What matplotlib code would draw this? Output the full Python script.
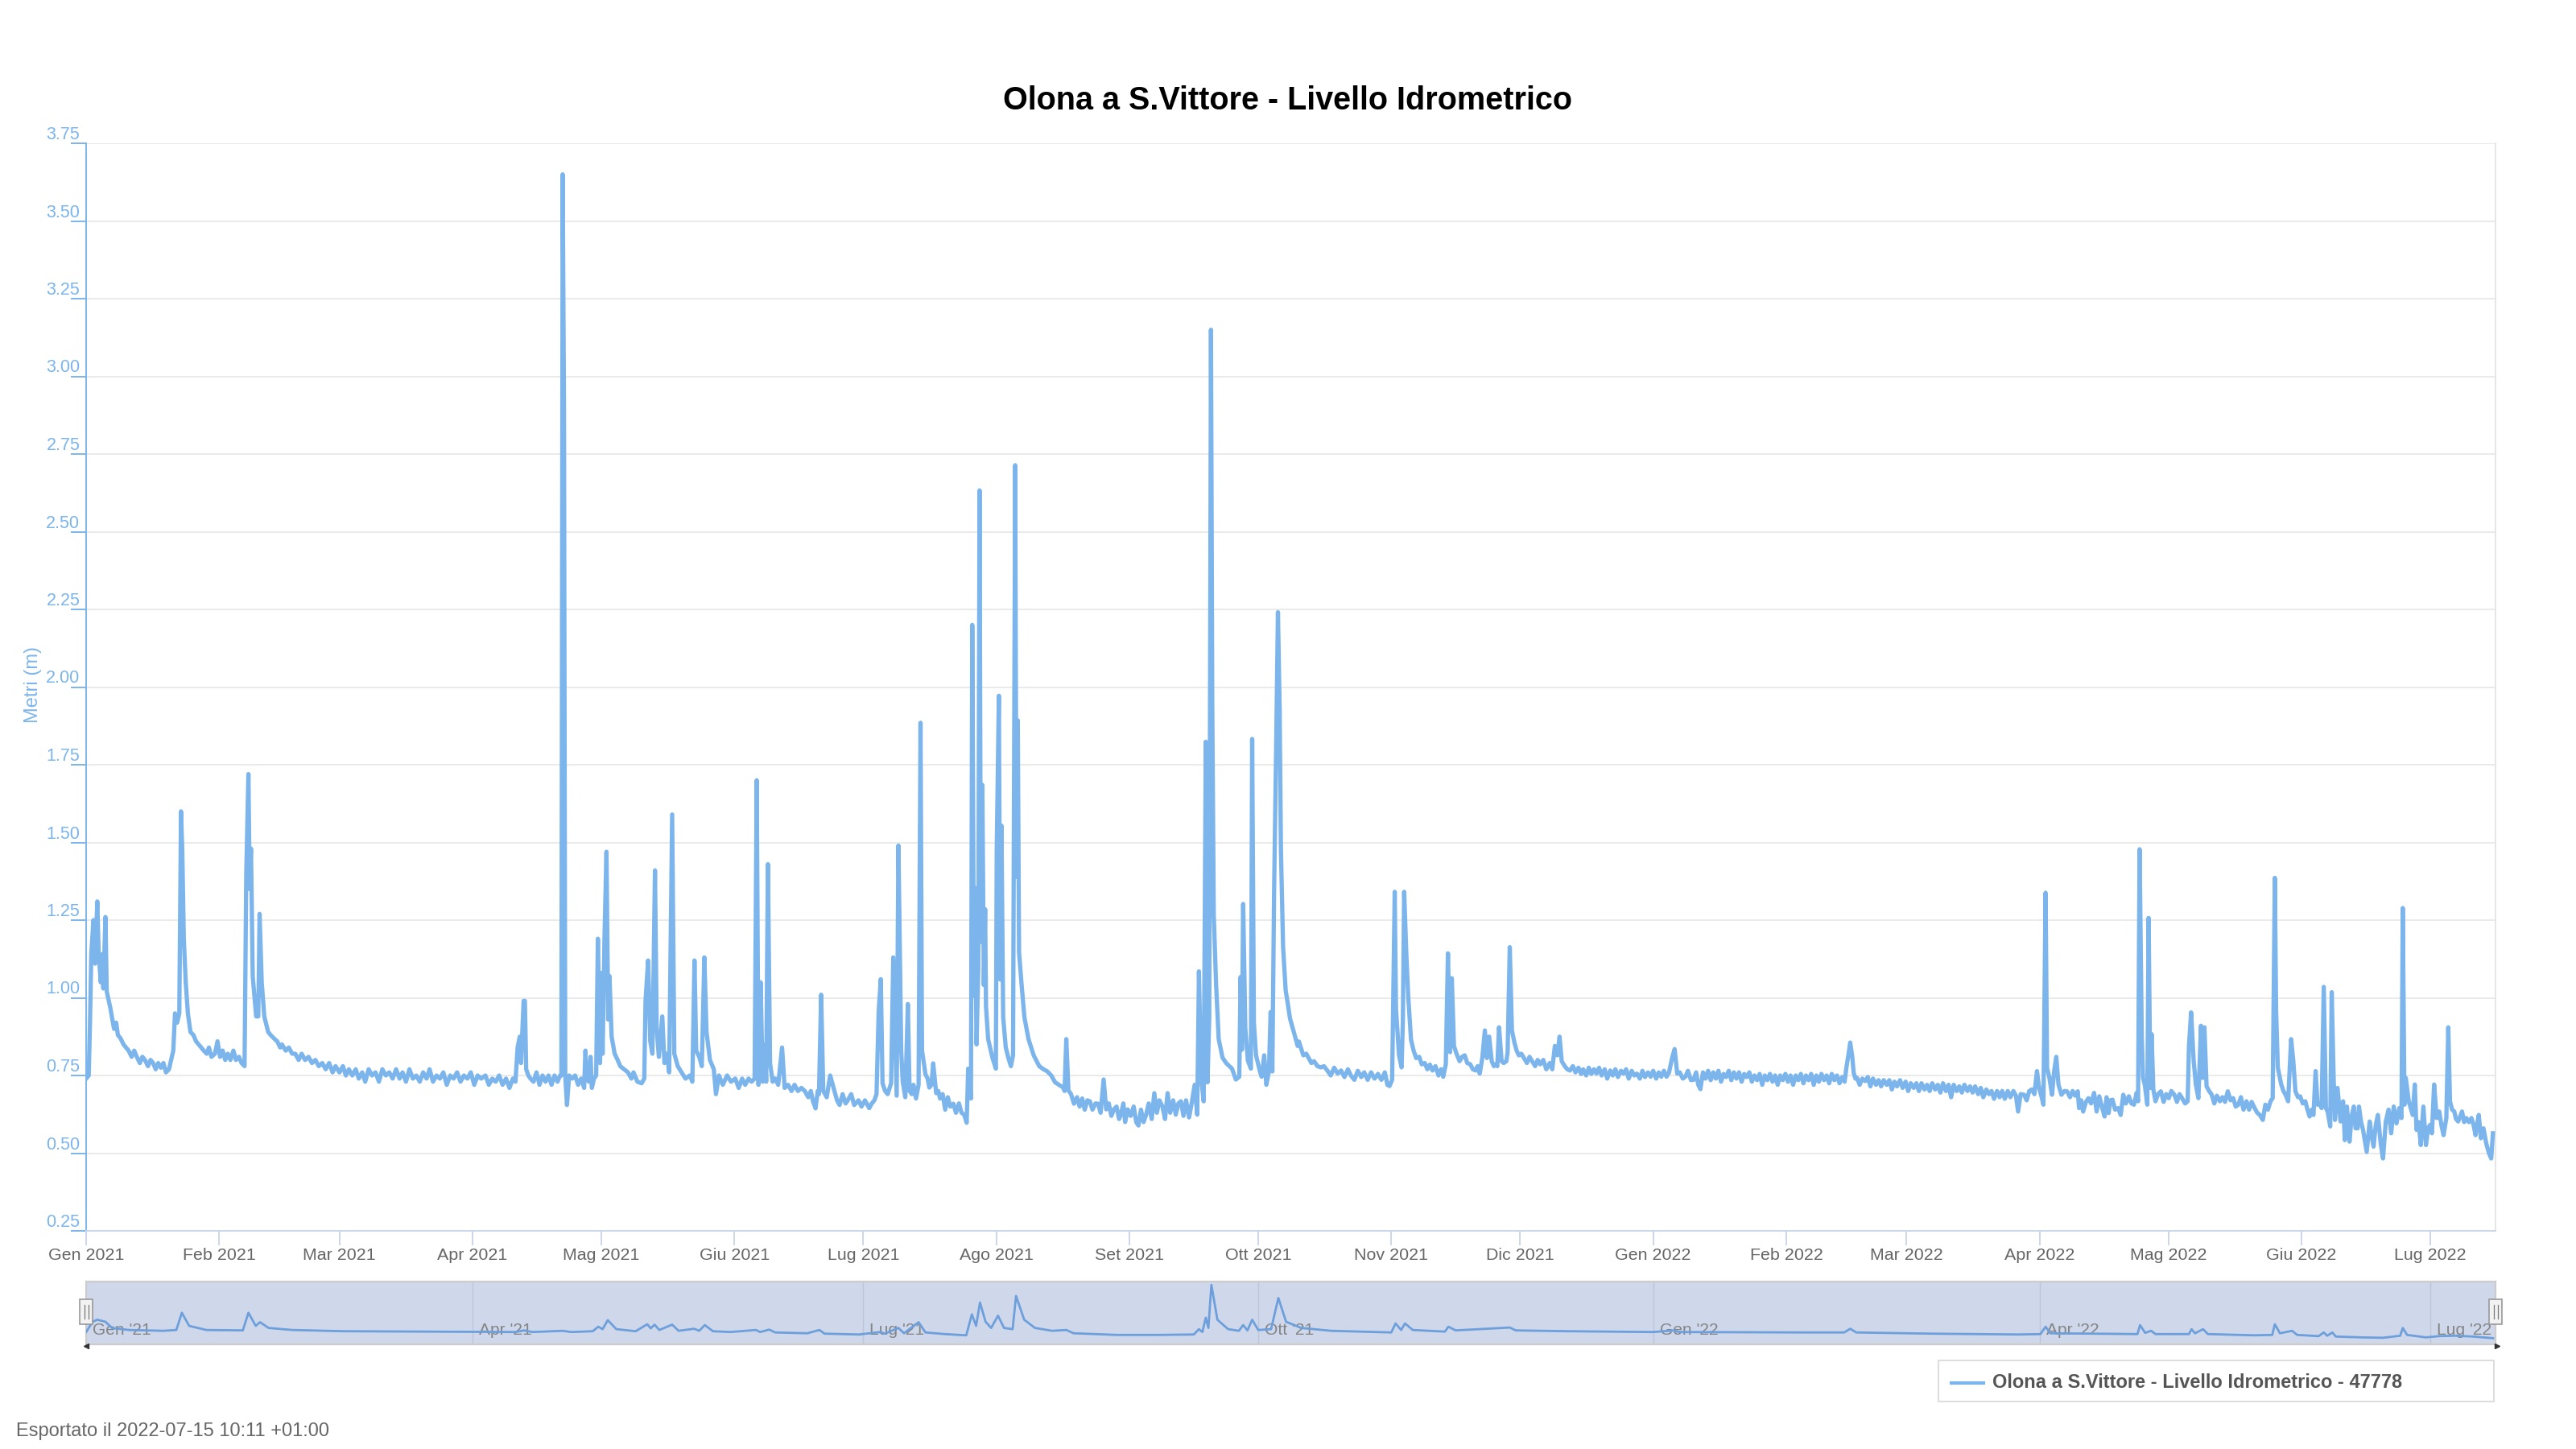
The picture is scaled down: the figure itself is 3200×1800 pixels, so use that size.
import numpy as np
import pandas as pd
import matplotlib
matplotlib.use("Agg")
import matplotlib.pyplot as plt
import matplotlib.transforms as mtransforms
from matplotlib.patches import Rectangle
from matplotlib.lines import Line2D

plt.rcParams['font.family'] = ['Liberation Sans', 'DejaVu Sans']

# giorni dal 1 gennaio 2021, livello in metri
inizio = pd.Timestamp('2021-01-01')

gg_gen_mar21 = [0.0, 0.6, 0.9, 1.2, 1.7, 2.1, 2.6, 2.9, 3.4, 3.7, 4.0, 4.5, 4.8, 5.6, 6.5, 7.0, 7.4, 8.0, 8.7, 9.3,
                9.9, 10.6, 11.2, 11.8, 12.5, 13.1, 13.7, 14.4, 15.0, 15.6, 16.2, 16.8, 17.4, 18.0, 18.6, 19.3, 19.8,
                20.3, 20.7, 21.2, 21.7, 22.1, 22.4, 22.75, 23.2, 23.7, 24.3, 25.0, 25.6, 26.2, 26.8, 27.4, 28.1, 28.6,
                29.2, 30.0, 30.6, 31.2, 31.8, 32.4, 33.0, 33.6, 34.3, 34.9, 35.6, 36.2, 36.9, 37.3, 37.8, 38.1, 38.4,
                38.8, 39.6, 40.1, 40.4, 40.9, 41.5, 42.4, 43.0, 43.7, 44.5, 45.2, 45.6, 46.5, 47.2, 48.0, 48.7, 49.5,
                50.2, 51.0, 51.8, 52.6, 53.4, 54.2, 55.0, 55.8, 56.6, 57.4, 58.1, 59.0, 59.8, 60.5, 61.2, 62.0, 62.8,
                63.5, 64.3, 65.0, 65.8, 66.6, 67.4, 68.2, 69.0, 69.8, 70.6, 71.4, 72.2, 73.0, 73.7, 74.5, 75.3, 76.1,
                76.9, 77.7, 78.5, 79.3, 80.0, 80.8, 81.6, 82.4, 83.2, 84.0, 84.8, 85.6, 86.4, 87.2, 88.0, 88.8, 89.6,
                90.4, 91.2, 92.0]
lv_gen_mar21 = [0.74, 0.75, 0.92, 1.14, 1.25, 1.11, 1.31, 1.15, 1.05, 1.14, 1.03, 1.26, 1.02, 0.97, 0.90, 0.92, 0.88,
                0.87, 0.85, 0.84, 0.83, 0.81, 0.83, 0.81, 0.79, 0.81, 0.80, 0.78, 0.80, 0.79, 0.77, 0.79, 0.775, 0.79,
                0.76, 0.77, 0.80, 0.83, 0.95, 0.92, 0.95, 1.60, 1.47, 1.19, 1.05, 0.95, 0.89, 0.88, 0.86, 0.85, 0.84,
                0.83, 0.82, 0.84, 0.81, 0.82, 0.86, 0.81, 0.83, 0.80, 0.82, 0.80, 0.83, 0.80, 0.81, 0.79, 0.78, 1.40,
                1.72, 1.35, 1.48, 1.07, 0.94, 0.94, 1.27, 1.05, 0.94, 0.89, 0.88, 0.87, 0.86, 0.84, 0.85, 0.83, 0.84,
                0.82, 0.82, 0.80, 0.82, 0.80, 0.81, 0.79, 0.80, 0.78, 0.79, 0.77, 0.79, 0.76, 0.78, 0.76, 0.78, 0.75,
                0.77, 0.75, 0.77, 0.74, 0.76, 0.73, 0.77, 0.75, 0.76, 0.73, 0.77, 0.75, 0.76, 0.74, 0.77, 0.74, 0.76,
                0.73, 0.77, 0.74, 0.75, 0.73, 0.76, 0.74, 0.77, 0.73, 0.75, 0.74, 0.76, 0.72, 0.75, 0.74, 0.76, 0.73,
                0.75, 0.74, 0.76, 0.72, 0.75, 0.74]

gg_apr_giu21 = [93.0, 93.8, 94.6, 95.4, 96.2, 97.0, 97.8, 98.6, 99.4, 100.0, 100.5, 101.0, 101.3, 101.9, 102.2, 102.5,
                103.0, 103.5, 104.2, 104.9, 105.6, 106.3, 107.0, 107.7, 108.4, 109.1, 109.8, 110.4, 110.7, 111.0,
                111.3, 111.6, 112.0, 112.5, 113.2, 113.9, 114.6, 115.3, 116.0, 116.3, 116.6, 117.1, 117.5, 117.8,
                118.3, 118.8, 119.2, 119.7, 120.0, 120.3, 120.75, 121.2, 121.6, 121.9, 122.4, 123.1, 123.8, 124.4,
                125.3, 126.2, 127.0, 127.5, 128.4, 129.4, 130.0, 130.3, 130.9, 131.4, 131.9, 132.5, 132.9, 133.4,
                134.2, 134.7, 135.3, 135.8, 136.5, 137.0, 137.8, 138.7, 139.6, 140.6, 141.2, 141.7, 142.1, 142.8,
                143.4, 144.0, 144.5, 145.3, 146.2, 146.7, 147.4, 148.3, 149.3, 150.2, 151.2, 152.0, 152.8, 153.5,
                154.3, 155.0, 155.7, 156.2, 156.6, 157.1, 157.6, 158.1, 158.4, 158.8, 159.3, 159.9, 160.5, 161.2,
                162.1, 162.7, 163.5, 164.3, 165.0, 165.8, 166.6, 167.4, 168.2, 168.8, 169.3, 169.9, 170.4, 170.7,
                171.2, 171.7, 172.5, 173.3, 174.3, 174.9, 175.5, 176.2, 176.9, 177.4, 178.2, 178.9, 179.9, 180.6,
                181.4, 182.4, 183.0, 183.6, 184.1, 184.6, 185.1, 185.5, 186.1, 186.7, 187.5, 188.0, 188.4, 188.8,
                189.2, 189.85, 190.2]
lv_apr_giu21 = [0.75, 0.72, 0.74, 0.73, 0.75, 0.72, 0.74, 0.71, 0.74, 0.73, 0.84, 0.875, 0.79, 0.99, 0.99, 0.77, 0.75,
                0.74, 0.73, 0.76, 0.72, 0.75, 0.73, 0.75, 0.72, 0.75, 0.73, 0.75, 0.75, 3.65, 2.90, 0.75, 0.655, 0.75,
                0.74, 0.75, 0.72, 0.74, 0.71, 0.83, 0.74, 0.73, 0.81, 0.71, 0.74, 0.75, 1.19, 0.79, 1.08, 0.82, 1.20,
                1.47, 0.93, 1.07, 0.875, 0.82, 0.80, 0.78, 0.77, 0.76, 0.74, 0.76, 0.73, 0.725, 0.74, 0.99, 1.12, 0.86,
                0.82, 1.41, 0.90, 0.81, 0.94, 0.79, 0.82, 0.76, 1.59, 0.82, 0.78, 0.76, 0.74, 0.75, 0.73, 1.12, 0.83,
                0.81, 0.78, 1.13, 0.89, 0.80, 0.77, 0.69, 0.75, 0.72, 0.75, 0.73, 0.74, 0.71, 0.74, 0.72, 0.74, 0.73,
                0.74, 1.70, 0.72, 1.05, 0.73, 0.85, 0.73, 1.43, 0.79, 0.73, 0.74, 0.72, 0.84, 0.71, 0.72, 0.70, 0.72,
                0.70, 0.71, 0.70, 0.68, 0.70, 0.667, 0.644, 0.70, 0.69, 1.01, 0.70, 0.68, 0.75, 0.70, 0.67, 0.655,
                0.69, 0.66, 0.67, 0.69, 0.655, 0.67, 0.65, 0.67, 0.645, 0.66, 0.67, 0.69, 0.955, 1.06, 0.725, 0.70,
                0.69, 0.725, 1.13, 0.91, 0.685, 1.49, 0.83, 0.73]

gg_lug_set21 = [190.8, 191.4, 191.8, 192.3, 192.7, 193.3, 193.9, 194.35, 194.7, 195.5, 196.0, 196.4, 196.9, 197.3,
                198.0, 198.5, 198.9, 199.5, 200.1, 200.7, 201.3, 202.0, 202.6, 203.3, 203.9, 204.5, 205.1, 205.45,
                206.1, 206.4, 206.8, 207.0, 207.4, 207.8, 208.1, 208.4, 208.75, 209.1, 209.4, 209.6, 210.1, 211.1,
                211.9, 212.1, 212.6, 212.9, 213.2, 213.6, 214.2, 214.8, 215.4, 215.9, 216.4, 216.7, 217.0, 217.3,
                217.9, 218.55, 219.5, 220.7, 222.0, 223.0, 223.9, 224.8, 225.7, 226.6, 227.6, 227.9, 228.3, 228.8,
                229.4, 230.1, 230.8, 231.4, 232.0, 232.6, 233.2, 233.8, 234.4, 235.1, 235.7, 236.3, 237.0, 237.6,
                238.2, 238.8, 239.4, 240.0, 240.6, 241.0, 241.6, 242.0, 242.6, 243.3, 244.0, 244.6, 245.1, 245.7,
                246.3, 246.9, 247.5, 248.2, 248.8, 249.4, 250.0, 250.7, 251.3, 251.9, 252.5, 253.2, 253.8, 254.4,
                255.0, 255.6, 256.2, 256.9, 257.5, 258.2, 258.8, 259.2, 259.7, 260.3, 260.8, 261.2, 261.6, 262.0,
                262.3, 262.65, 263.2, 263.8, 264.7, 265.6, 266.9, 267.8, 268.6, 268.9, 269.2, 269.5, 270.0, 270.6,
                271.3, 271.6, 272.0, 272.5, 273.4, 273.8, 274.4, 274.9, 275.5, 275.9, 276.3, 276.7, 277.2, 277.6,
                278.0, 278.3, 278.8, 279.4, 280.0]
lv_lug_set21 = [0.68, 0.98, 0.70, 0.69, 0.72, 0.676, 0.72, 1.885, 0.83, 0.754, 0.74, 0.711, 0.72, 0.789, 0.693, 0.70,
                0.676, 0.69, 0.64, 0.68, 0.65, 0.659, 0.63, 0.66, 0.63, 0.624, 0.598, 0.772, 0.676, 2.20, 1.007, 1.354,
                0.85, 1.093, 2.633, 1.18, 1.685, 1.041, 1.285, 0.972, 0.867, 0.807, 0.772, 1.476, 1.972, 1.059, 1.554,
                0.937, 0.841, 0.807, 0.78, 0.815, 2.714, 1.389, 1.893, 1.146, 1.041, 0.937, 0.867, 0.815, 0.78, 0.77,
                0.763, 0.75, 0.728, 0.72, 0.711, 0.70, 0.867, 0.702, 0.69, 0.659, 0.68, 0.65, 0.676, 0.64, 0.67,
                0.667, 0.64, 0.66, 0.659, 0.63, 0.737, 0.641, 0.66, 0.62, 0.641, 0.65, 0.61, 0.624, 0.66, 0.60, 0.641,
                0.62, 0.65, 0.60, 0.589, 0.64, 0.60, 0.624, 0.66, 0.61, 0.693, 0.63, 0.67, 0.65, 0.61, 0.693, 0.63,
                0.67, 0.624, 0.66, 0.667, 0.62, 0.67, 0.615, 0.66, 0.72, 0.624, 1.085, 0.746, 0.667, 1.824, 0.728,
                0.937, 3.15, 1.946, 1.267, 1.041, 0.867, 0.807, 0.789, 0.772, 0.737, 0.746, 1.067, 0.833, 1.302, 0.902,
                0.798, 0.772, 1.833, 0.92, 0.815, 0.763, 0.746, 0.815, 0.72, 0.763, 0.954, 0.763, 1.337, 1.824, 2.241,
                1.928, 1.476, 1.163, 1.024, 0.972]

gg_ott_dic21 = [280.4, 281.0, 281.6, 282.2, 282.5, 283.5, 284.2, 284.75, 285.4, 286.0, 286.8, 287.6, 288.3, 289.1,
                289.9, 290.7, 291.5, 292.3, 293.1, 293.9, 294.6, 295.4, 296.2, 297.0, 297.7, 298.5, 299.3, 300.1,
                300.9, 301.7, 302.5, 303.1, 303.6, 304.2, 304.8, 305.1, 305.8, 306.4, 306.7, 307.0, 307.5, 307.95,
                308.6, 309.2, 309.8, 310.5, 311.1, 311.8, 312.4, 313.0, 313.6, 314.3, 315.0, 315.6, 316.1, 316.7,
                317.2, 317.7, 318.1, 318.6, 319.2, 319.9, 320.5, 321.1, 321.7, 322.4, 323.0, 323.6, 324.1, 324.6,
                325.2, 325.8, 326.3, 326.8, 327.4, 327.9, 328.3, 328.7, 329.1, 329.7, 330.2, 330.8, 331.1, 331.6,
                332.1, 332.7, 333.2, 333.7, 334.3, 334.9, 335.6, 336.2, 336.8, 337.5, 338.1, 338.7, 339.4, 340.1,
                340.9, 341.5, 342.1, 342.7, 343.2, 343.7, 344.4, 345.0, 345.6, 346.3, 346.9, 347.6, 348.2, 348.7,
                349.4, 350.0, 350.6, 351.2, 351.8, 352.4, 353.0, 353.7, 354.3, 355.0, 355.6, 356.2, 356.8, 357.5,
                358.1, 358.7, 359.3, 360.0, 360.6, 361.2, 361.9, 362.5, 363.1, 363.8, 364.4, 365.0, 365.7, 366.3,
                366.9, 367.5, 368.1, 368.7, 369.4, 370.0, 370.6, 371.2, 371.9, 372.5, 373.1, 373.8, 374.4, 375.0,
                375.5]
lv_ott_dic21 = [0.934, 0.905, 0.875, 0.845, 0.859, 0.815, 0.82, 0.806, 0.79, 0.796, 0.78, 0.776, 0.78, 0.766, 0.75,
                0.775, 0.756, 0.766, 0.745, 0.77, 0.75, 0.736, 0.765, 0.745, 0.76, 0.736, 0.76, 0.74, 0.755, 0.736,
                0.76, 0.72, 0.716, 0.736, 1.341, 0.964, 0.815, 0.776, 0.925, 1.341, 1.143, 1.004, 0.865, 0.83, 0.806,
                0.81, 0.786, 0.79, 0.77, 0.785, 0.766, 0.78, 0.75, 0.77, 0.746, 0.786, 1.143, 0.825, 1.063, 0.845,
                0.82, 0.796, 0.81, 0.815, 0.79, 0.786, 0.77, 0.766, 0.78, 0.756, 0.806, 0.895, 0.806, 0.875, 0.796,
                0.78, 0.786, 0.78, 0.905, 0.796, 0.79, 0.796, 0.825, 1.163, 0.895, 0.855, 0.83, 0.815, 0.82, 0.806,
                0.79, 0.81, 0.796, 0.78, 0.80, 0.786, 0.80, 0.77, 0.79, 0.77, 0.845, 0.815, 0.875, 0.796, 0.78, 0.77,
                0.766, 0.78, 0.76, 0.775, 0.755, 0.77, 0.75, 0.775, 0.755, 0.77, 0.756, 0.775, 0.75, 0.77, 0.74,
                0.766, 0.75, 0.77, 0.745, 0.765, 0.756, 0.77, 0.74, 0.765, 0.75, 0.756, 0.74, 0.765, 0.745, 0.76,
                0.746, 0.765, 0.74, 0.76, 0.746, 0.765, 0.746, 0.76, 0.806, 0.835, 0.756, 0.76, 0.74, 0.746, 0.765,
                0.735, 0.736, 0.76, 0.72]

gg_gen_mar22 = [376.0, 376.6, 377.2, 377.8, 378.4, 379.0, 379.6, 380.2, 380.8, 381.4, 382.0, 382.6, 383.2, 383.8,
                384.4, 385.0, 385.6, 386.2, 386.8, 387.4, 388.0, 388.6, 389.2, 389.8, 390.4, 391.0, 391.6, 392.2,
                392.8, 393.4, 394.0, 394.6, 395.2, 395.8, 396.4, 397.0, 397.6, 398.2, 398.8, 399.4, 400.0, 400.6,
                401.2, 401.8, 402.4, 403.0, 403.6, 404.2, 404.8, 405.4, 406.0, 406.6, 407.2, 407.8, 408.4, 409.0,
                409.6, 410.0, 410.5, 410.9, 411.4, 411.7, 412.1, 412.5, 413.1, 413.7, 414.4, 415.0, 415.6, 416.2,
                416.9, 417.5, 418.1, 418.7, 419.4, 420.0, 420.6, 421.2, 421.8, 422.5, 423.1, 423.8, 424.4, 425.0,
                425.7, 426.3, 426.9, 427.5, 428.2, 428.8, 429.4, 430.0, 430.7, 431.3, 431.9, 432.5, 433.2, 433.8,
                434.4, 435.0, 435.7, 436.3, 436.9, 437.5, 438.2, 438.8, 439.4, 440.0, 440.7, 441.3, 441.9, 442.6,
                443.2, 443.8, 444.4, 445.1, 445.7, 446.3, 446.9, 447.6, 448.2, 448.9, 449.5, 450.0, 450.6, 451.4,
                452.0, 452.6, 453.2, 453.8, 454.4, 454.8, 455.1, 455.5, 455.9, 456.4, 456.75, 457.3, 457.9, 458.4,
                458.9, 459.4, 460.1, 460.8, 461.4, 462.1, 462.7, 463.3, 463.9, 464.2, 464.7, 465.15, 465.8, 466.4,
                467.0]
lv_gen_mar22 = [0.706, 0.76, 0.74, 0.765, 0.735, 0.76, 0.74, 0.765, 0.73, 0.755, 0.745, 0.765, 0.735, 0.76, 0.74,
                0.76, 0.73, 0.755, 0.745, 0.76, 0.73, 0.75, 0.735, 0.755, 0.72, 0.75, 0.735, 0.755, 0.73, 0.75, 0.72,
                0.75, 0.735, 0.755, 0.73, 0.75, 0.72, 0.75, 0.735, 0.755, 0.725, 0.75, 0.735, 0.755, 0.72, 0.75, 0.73,
                0.755, 0.735, 0.75, 0.725, 0.755, 0.735, 0.75, 0.725, 0.745, 0.73, 0.775, 0.818, 0.856, 0.807, 0.759,
                0.74, 0.742, 0.72, 0.74, 0.732, 0.745, 0.715, 0.74, 0.72, 0.735, 0.715, 0.735, 0.72, 0.735, 0.705,
                0.73, 0.715, 0.735, 0.71, 0.73, 0.70, 0.725, 0.71, 0.725, 0.70, 0.725, 0.705, 0.72, 0.70, 0.725,
                0.705, 0.72, 0.695, 0.725, 0.70, 0.72, 0.68, 0.72, 0.70, 0.715, 0.695, 0.72, 0.70, 0.715, 0.695,
                0.715, 0.69, 0.71, 0.68, 0.705, 0.69, 0.70, 0.675, 0.70, 0.68, 0.70, 0.675, 0.70, 0.68, 0.70, 0.685,
                0.634, 0.69, 0.688, 0.67, 0.70, 0.705, 0.69, 0.764, 0.72, 0.699, 0.68, 0.656, 1.338, 0.775, 0.742,
                0.688, 0.764, 0.81, 0.721, 0.688, 0.70, 0.699, 0.68, 0.70, 0.685, 0.699, 0.645, 0.67, 0.634, 0.665,
                0.677, 0.66]

gg_apr_lug22 = [467.7, 468.3, 468.9, 469.5, 470.15, 470.6, 471.1, 471.5, 472.0, 472.6, 473.3, 473.9, 474.5, 475.1,
                475.8, 476.4, 477.0, 477.6, 477.95, 478.3, 478.8, 479.1, 479.5, 480.1, 480.4, 480.8, 481.1, 481.5,
                482.0, 482.6, 483.25, 483.9, 484.5, 485.1, 485.7, 486.4, 487.0, 487.6, 488.2, 488.9, 489.5, 489.8,
                490.3, 490.9, 491.4, 492.0, 492.6, 493.0, 493.4, 493.9, 494.5, 495.1, 495.7, 496.3, 497.0, 497.6,
                498.2, 498.85, 499.5, 500.1, 500.7, 501.3, 501.9, 502.5, 503.2, 503.8, 504.4, 505.1, 505.7, 506.3,
                507.0, 507.6, 508.2, 508.8, 509.3, 509.8, 510.1, 510.5, 511.3, 511.8, 512.3, 512.9, 513.6, 514.1,
                514.6, 515.2, 515.7, 516.3, 516.9, 517.4, 517.9, 518.4, 518.8, 519.3, 519.75, 520.2, 520.7, 521.2,
                521.7, 522.1, 522.7, 523.05, 523.5, 523.8, 524.4, 525.1, 525.7, 526.1, 526.6, 527.2, 527.7, 528.2,
                528.6, 529.1, 529.4, 529.9, 530.35, 531.2, 531.9, 532.3, 532.8, 533.3, 533.8, 534.5, 535.0, 535.65,
                536.3, 536.9, 537.5, 538.15, 538.8, 539.3, 539.6, 540.0, 540.3, 541.0, 541.9, 542.4, 542.8, 543.3,
                543.8, 544.4, 545.0, 545.5, 545.95, 546.4, 546.9, 547.5, 548.1, 548.6, 549.1, 549.75, 550.2, 550.6,
                551.1, 551.6, 552.0, 552.5, 553.0, 553.4, 553.9, 554.4, 555.0, 555.6, 556.1, 556.55, 557.0, 557.3,
                557.8, 558.4, 559.05, 559.7, 560.2, 560.6]
lv_apr_lug22 = [0.694, 0.634, 0.683, 0.65, 0.618, 0.68, 0.629, 0.67, 0.672, 0.64, 0.645, 0.623, 0.688, 0.66, 0.683,
                0.66, 0.656, 0.694, 0.667, 1.478, 0.883, 0.742, 0.721, 0.656, 1.257, 0.71, 0.883, 0.705, 0.667, 0.69,
                0.699, 0.665, 0.69, 0.677, 0.70, 0.688, 0.665, 0.69, 0.677, 0.66, 0.667, 0.845, 0.953, 0.797, 0.721,
                0.677, 0.91, 0.742, 0.905, 0.715, 0.70, 0.688, 0.66, 0.685, 0.667, 0.68, 0.665, 0.699, 0.67, 0.677,
                0.65, 0.656, 0.68, 0.64, 0.667, 0.64, 0.665, 0.645, 0.63, 0.623, 0.607, 0.656, 0.64, 0.667, 0.677,
                1.386, 0.959, 0.775, 0.721, 0.70, 0.688, 0.667, 0.867, 0.797, 0.699, 0.68, 0.683, 0.66, 0.667, 0.64,
                0.618, 0.64, 0.623, 0.764, 0.656, 0.66, 0.645, 1.035, 0.645, 0.634, 0.586, 1.018, 0.742, 0.607, 0.71,
                0.602, 0.667, 0.542, 0.65, 0.537, 0.62, 0.65, 0.58, 0.58, 0.65, 0.60, 0.575, 0.504, 0.602, 0.56, 0.521,
                0.59, 0.623, 0.526, 0.483, 0.602, 0.64, 0.564, 0.65, 0.596, 0.645, 0.613, 1.289, 0.656, 0.742, 0.667,
                0.623, 0.721, 0.575, 0.60, 0.526, 0.65, 0.526, 0.58, 0.591, 0.564, 0.721, 0.613, 0.634, 0.59, 0.558,
                0.613, 0.905, 0.667, 0.64, 0.634, 0.61, 0.602, 0.62, 0.634, 0.60, 0.613, 0.60, 0.613, 0.59, 0.558,
                0.60, 0.623, 0.548, 0.58, 0.531, 0.499, 0.483, 0.564]

# serie ridotta mostrata nel navigatore
nav_giorni = [0, 1.5, 2.6, 4.5, 6, 10, 18, 21, 22.3, 24, 28, 36.5, 37.8, 39.5, 40.5, 42.5, 48, 60, 80, 100, 102, 104,
              111, 113, 118, 119.3, 120.3, 121.5, 123.5, 128, 130.7, 131.5, 132.4, 133.5, 136.5, 138, 141.6, 142.8,
              144.1, 146, 150, 156, 157, 159.1, 160.5, 168, 170.8, 172, 180, 185, 186, 189.2, 190.5, 193.9, 195.5,
              200, 205, 206.3, 207.3, 208.2, 209.5, 210.8, 212.4, 213.8, 215.8, 216.6, 218.5, 221, 225, 228.3, 230,
              240, 250, 258, 259.2, 260, 260.8, 261.4, 262.1, 263.5, 266, 268.5, 269.5, 270.5, 271.6, 273, 276,
              277.7, 279.5, 283, 290, 300, 304, 305, 306.3, 307.2, 309, 316.5, 317.3, 319, 331.6, 333, 345, 365,
              369.8, 371, 400, 409.5, 410.9, 412.3, 430, 450, 455.2, 456.4, 457.5, 477.8, 478.4, 479.6, 481, 482,
              489.8, 490.4, 491.2, 493.1, 494.2, 505, 509.2, 509.8, 511, 513.8, 515, 520, 521.2, 522, 523.2, 524,
              530, 535, 539, 539.6, 540.6, 545, 548, 552, 556, 560.6]
nav_livello = [0.75, 1.00, 1.05, 1.00, 0.85, 0.80, 0.78, 0.80, 1.22, 0.90, 0.80, 0.79, 1.22, 0.90, 0.99, 0.85, 0.80,
               0.77, 0.76, 0.75, 0.79, 0.75, 0.78, 0.75, 0.77, 0.88, 0.82, 1.04, 0.82, 0.77, 0.94, 0.84, 0.93, 0.80,
               0.93, 0.78, 0.83, 0.78, 0.92, 0.77, 0.75, 0.80, 0.75, 0.81, 0.74, 0.72, 0.80, 0.71, 0.69, 0.75, 0.71,
               0.85, 0.72, 0.99, 0.74, 0.70, 0.67, 1.18, 0.90, 1.47, 1.00, 0.85, 1.15, 0.85, 0.82, 1.63, 1.05, 0.85,
               0.78, 0.80, 0.72, 0.68, 0.68, 0.69, 0.82, 0.75, 1.10, 0.85, 1.90, 1.05, 0.82, 0.78, 0.92, 0.79, 1.05,
               0.80, 0.82, 1.58, 1.00, 0.85, 0.78, 0.75, 0.74, 0.96, 0.80, 0.96, 0.80, 0.76, 0.88, 0.79, 0.86, 0.79,
               0.77, 0.75, 0.79, 0.75, 0.74, 0.74, 0.83, 0.74, 0.71, 0.69, 0.70, 0.88, 0.72, 0.70, 0.92, 0.73, 0.78,
               0.70, 0.70, 0.82, 0.72, 0.82, 0.70, 0.67, 0.68, 0.94, 0.72, 0.78, 0.68, 0.65, 0.74, 0.66, 0.74, 0.64,
               0.62, 0.61, 0.66, 0.85, 0.68, 0.62, 0.65, 0.66, 0.64, 0.60]

nomi_mesi = ['Gen', 'Feb', 'Mar', 'Apr', 'Mag', 'Giu', 'Lug', 'Ago', 'Set', 'Ott', 'Nov', 'Dic']
tick_y = [0.25, 0.50, 0.75, 1.00, 1.25, 1.50, 1.75, 2.00, 2.25, 2.50, 2.75, 3.00, 3.25, 3.50, 3.75]

titolo = 'Olona a S.Vittore - Livello Idrometrico'
serie = 'Olona a S.Vittore - Livello Idrometrico - 47778'
nota = 'Esportato il 2022-07-15 10:11 +01:00'

BLU = '#7cb5ec'
W, H = 3200, 1800

giorni = np.concatenate([gg_gen_mar21, gg_apr_giu21, gg_lug_set21, gg_ott_dic21, gg_gen_mar22, gg_apr_lug22])
livello = np.concatenate([lv_gen_mar21, lv_apr_giu21, lv_lug_set21, lv_ott_dic21, lv_gen_mar22, lv_apr_lug22])
date = inizio + pd.to_timedelta(giorni, unit='D')
nav_date = inizio + pd.to_timedelta(np.array(nav_giorni), unit='D')
x_fine = inizio + pd.Timedelta(days=561.2)

fig = plt.figure(figsize=(32, 18), dpi=100)
fig.patch.set_facecolor('white')

# ---- grafico principale ----
ax = fig.add_axes([107 / W, 1 - 1529 / H, (3100 - 107) / W, (1529 - 178) / H])
ax.plot(date, livello, color=BLU, lw=3.8, solid_joinstyle='round', zorder=3)
ax.set_xlim(inizio, x_fine)
ax.set_ylim(0.25, 3.75)

ax.set_yticks(tick_y)
ax.set_yticklabels([f'{v:.2f}' for v in tick_y])
ax.grid(axis='y', color='#e6e6e6', lw=1.2)
ax.set_axisbelow(True)

mesi = pd.date_range('2021-01-01', '2022-07-01', freq='MS')
ax.set_xticks(mesi)
ax.set_xticklabels([f'{nomi_mesi[m.month - 1]} {m.year}' for m in mesi])

ax.spines['top'].set_visible(False)
ax.spines['right'].set_color('#e6e6e6')
ax.spines['right'].set_linewidth(1.4)
ax.spines['left'].set_color(BLU)
ax.spines['left'].set_linewidth(1.4)
ax.spines['bottom'].set_color('#ccd6eb')
ax.spines['bottom'].set_linewidth(1.4)

ax.tick_params(axis='y', length=13.5, width=1.4, color=BLU, labelcolor=BLU, labelsize=15.5, pad=-8)
for lab in ax.get_yticklabels():
    lab.set_verticalalignment('bottom')
ax.tick_params(axis='x', length=13, width=1.4, color='#ccd6eb', labelcolor='#666666', labelsize=15.4, pad=2)

fig.text(41 / W, 1 - 851 / H, 'Metri (m)', rotation=90, ha='center', va='center', color=BLU, fontsize=17)
fig.text(0.5, 1 - 125 / H, titolo, ha='center', va='center', fontsize=28.5, fontweight='bold', color='#000000')

# ---- navigatore ----
nav = fig.add_axes([107 / W, 1 - 1670 / H, (3100 - 107) / W, 78 / H])
nav.set_facecolor('#cfd8ea')
nav.set_xlim(inizio, x_fine)
nav.set_ylim(0.45, 1.98)
nav.set_xticks([])
nav.set_yticks([])
for s in nav.spines.values():
    s.set_color('#cccccc')
    s.set_linewidth(1.6)

mesi_nav = pd.date_range('2021-01-01', '2022-07-01', freq='3MS')
off = mtransforms.offset_copy(nav.get_xaxis_transform(), fig=fig, x=8, y=0, units='dots')
for m in mesi_nav:
    if m > inizio:
        nav.axvline(m, color='#bcc6da', lw=1.0, zorder=1)
    nav.text(m, 0.22, f"{nomi_mesi[m.month - 1]} '{str(m.year)[2:]}", transform=off,
             ha='left', va='center', fontsize=15.1, color='#858585', zorder=2)
nav.plot(nav_date, nav_livello, color='#6c9fdb', lw=2.0, zorder=3)

# maniglie del navigatore
for xc in (107, 3100):
    fig.patches.append(Rectangle(((xc - 8) / W, 1 - 1645 / H), 16 / W, 31 / H, transform=fig.transFigure,
                                 facecolor='#f2f2f2', edgecolor='#999999', lw=1.2, zorder=5))
    for dx in (-2.5, 2.5):
        fig.lines.append(Line2D([(xc + dx) / W] * 2, [1 - 1638 / H, 1 - 1621 / H], transform=fig.transFigure,
                                color='#777777', lw=0.9, zorder=6))
fig.lines.append(Line2D([107 / W], [1 - 1672 / H], transform=fig.transFigure, marker='<', markersize=5,
                        color='#333333', lw=0, zorder=6))
fig.lines.append(Line2D([3102 / W], [1 - 1672 / H], transform=fig.transFigure, marker='>', markersize=5,
                        color='#333333', lw=0, zorder=6))

# ---- legenda ----
fig.patches.append(Rectangle((2408 / W, 1 - 1741 / H), 690 / W, 51 / H, transform=fig.transFigure,
                             facecolor='white', edgecolor='#dddddd', lw=1.4))
fig.lines.append(Line2D([2424 / W, 2464 / W], [1 - 1718 / H] * 2, transform=fig.transFigure, color=BLU, lw=3.0))
fig.text(2475 / W, 1 - 1718 / H, serie, ha='left', va='center', fontsize=17, fontweight='bold', color='#555555')

fig.text(20 / W, 1 - 1778 / H, nota, ha='left', va='center', fontsize=17, color='#666666')

fig.savefig('out.png', dpi=100, facecolor='white')
